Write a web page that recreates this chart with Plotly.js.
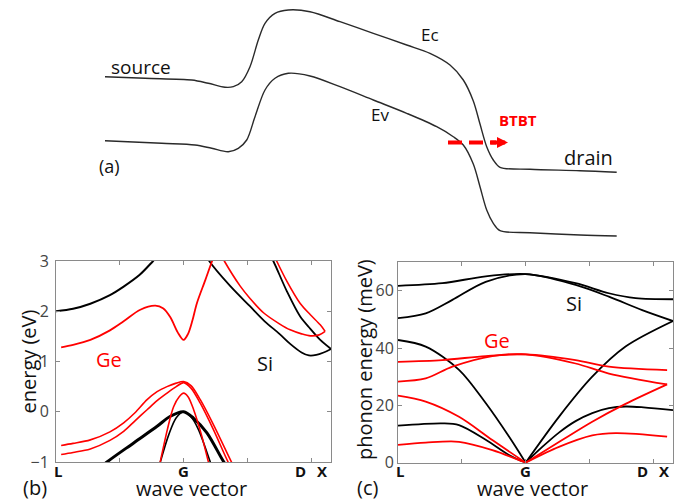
<!DOCTYPE html>
<html><head><meta charset="utf-8">
<script src="https://cdn.plot.ly/plotly-3.0.1.min.js"></script>
<style>html,body{margin:0;padding:0;background:#fff}#chart{width:684px;height:501px}</style>
</head><body><div id="chart"></div>
<script>
// ---------- panel (a): band diagram (position, energy in arbitrary units) ----------
const ecPos    = [105, 145, 191.7, 208.3, 225, 233.3, 241.7, 250, 258.3, 265, 275, 288.3, 310, 340, 373.3, 406.7, 430, 450, 463.3, 473.3, 480, 486.7, 493.3, 500, 530, 580, 616.7];
const ecEnergy = [173.3, 171.7, 170, 166.7, 162.7, 163.3, 168.3, 183.3, 210, 226.7, 236.7, 240, 238.3, 228.3, 216.7, 205, 196.7, 185, 170, 149, 126, 103.3, 90, 82.7, 80.7, 79.3, 77.7];
const evPos    = [105, 161.7, 195, 211.7, 228.3, 238.3, 246.7, 255, 265, 275, 288.3, 310, 340, 373.3, 406.7, 436.7, 453.3, 463.3, 473.3, 480, 486.7, 493.3, 500, 530, 580, 616.7];
const evEnergy = [109.3, 106.7, 105, 101.7, 98.3, 101.7, 110, 133.3, 160, 171.7, 176.7, 174, 163.3, 150, 136.7, 123.3, 113.3, 105, 86, 63.3, 40, 26.7, 19.3, 17.3, 15, 14];
const btbtPos = [448, 496];
const btbtEnergy = [107.5, 107.5];

// ---------- panel (b): electronic band structure (k in 2pi/a, E in eV) ----------
const siCbL_k = [-0.866, -0.75, -0.633, -0.5, -0.407, -0.3, -0.207, -0.1];
const siCbL_E = [2.0, 2.05, 2.15, 2.32, 2.49, 2.72, 3.0, 3.35];
const siCb1_k = [0.1, 0.176, 0.317, 0.45, 0.55, 0.65, 0.723, 0.8, 0.85, 0.9, 0.95, 1.0];
const siCb1_E = [3.4, 2.99, 2.5, 2.1, 1.8, 1.55, 1.35, 1.18, 1.12, 1.13, 1.18, 1.25];
const siCb2_k = [0.58, 0.61, 0.7, 0.79, 0.86, 0.927, 1.0];
const siCb2_E = [3.15, 2.99, 2.4, 1.9, 1.65, 1.43, 1.25];
const geCbA_k = [-0.831, -0.75, -0.633, -0.5, -0.407, -0.294, -0.192, -0.14, -0.09, -0.04, 0, 0.03, 0.06, 0.09, 0.147, 0.192, 0.22];
const geCbA_E = [1.28, 1.33, 1.43, 1.62, 1.80, 2.03, 2.11, 2.06, 1.88, 1.58, 1.43, 1.55, 1.82, 2.16, 2.62, 2.99, 3.2];
const geCbB_k = [0.24, 0.278, 0.384, 0.452, 0.542, 0.65, 0.723, 0.8, 0.86, 0.92, 0.96];
const geCbB_E = [3.2, 2.99, 2.5, 2.25, 1.97, 1.75, 1.63, 1.55, 1.51, 1.53, 1.60];
const geCbC_k = [0.6, 0.633, 0.7, 0.79, 0.86, 0.927, 0.96];
const geCbC_E = [3.2, 2.99, 2.6, 2.16, 1.93, 1.73, 1.60];
const siHH_k = [-0.6, -0.52, -0.339, -0.18, -0.09, 0, 0.068, 0.158, 0.271, 0.3];
const siHH_E = [-1.2, -1.0, -0.62, -0.29, -0.09, 0, -0.13, -0.42, -0.99, -1.1];
const siLH_k = [-0.18, -0.158, -0.1, -0.05, 0, 0.05, 0.1, 0.181, 0.2];
const siLH_E = [-1.25, -1.0, -0.45, -0.12, 0, -0.1, -0.35, -1.0, -1.15];
const geHH_k = [-0.831, -0.75, -0.633, -0.5, -0.407, -0.33, -0.248, -0.18, -0.113, -0.05, 0, 0.05, 0.113, 0.203, 0.328, 0.36];
const geHH_E = [-0.67, -0.63, -0.56, -0.4, -0.22, -0.02, 0.24, 0.4, 0.5, 0.57, 0.60, 0.52, 0.24, -0.26, -1.02, -1.2];
const geLH_k = [-0.831, -0.75, -0.633, -0.5, -0.407, -0.33, -0.248, -0.18, -0.113, -0.05, 0, 0.05, 0.113, 0.203, 0.305, 0.34];
const geLH_E = [-0.85, -0.81, -0.74, -0.57, -0.39, -0.18, 0.04, 0.22, 0.37, 0.5, 0.58, 0.47, 0.17, -0.36, -1.02, -1.2];
const geSO_k = [-0.18, -0.158, -0.11, -0.068, -0.03, 0, 0.03, 0.068, 0.12, 0.17, 0.19];
const geSO_E = [-1.3, -0.99, -0.35, 0.1, 0.3, 0.37, 0.3, 0.04, -0.45, -1.02, -1.25];

// ---------- panel (c): phonon dispersion (k in 2pi/a, E in meV) ----------
const siTO_k = [-0.866, -0.565, -0.271, 0, 0.339, 0.565, 0.746, 1.0];
const siTO_E = [61.7, 62.6, 65.0, 65.8, 62.6, 59.1, 57.4, 57.0];
const siLO_k = [-0.866, -0.678, -0.497, -0.271, 0, 0.339, 0.565, 0.791, 1.0];
const siLO_E = [50.4, 52.1, 56.8, 63.1, 65.8, 62.0, 57.9, 53.2, 49.4];
const siLA_k = [-0.866, -0.678, -0.452, -0.271, -0.113, 0, 0.226, 0.452, 0.678, 1.0];
const siLA_E = [42.8, 40.5, 32.4, 20.8, 9.1, 0, 16.0, 30.0, 40.5, 49.4];
const siTA_k = [-0.866, -0.565, -0.452, -0.271, -0.113, 0, 0.113, 0.226, 0.339, 0.452, 0.565, 0.678, 0.8, 1.0];
const siTA_E = [12.9, 13.7, 13.1, 8.0, 2.7, 0, 5.5, 10.5, 14.5, 17.3, 19.0, 19.6, 19.3, 18.3];
const geO1_k = [-0.866, -0.565, -0.271, 0, 0.339, 0.565, 0.96];
const geO1_E = [35.2, 35.8, 37.2, 37.8, 35.8, 33.5, 32.3];
const geO2_k = [-0.866, -0.678, -0.497, -0.226, 0, 0.339, 0.565, 0.96];
const geO2_E = [28.3, 29.4, 33.5, 37.2, 37.8, 34.6, 31.1, 27.3];
const geLA_k = [-0.866, -0.678, -0.452, -0.226, 0, 0.226, 0.452, 0.678, 0.96];
const geLA_E = [23.4, 21.3, 16.0, 7.9, 0, 7.2, 14.3, 20.5, 27.3];
const geTA_k = [-0.866, -0.678, -0.452, -0.226, 0, 0.226, 0.452, 0.61, 0.96];
const geTA_E = [6.2, 7.0, 7.3, 4.4, 0, 5.5, 9.5, 10.3, 9.1];

const kTickVals = [-0.866, -0.433, 0, 0.433, 0.866, 1.0];

const RED = '#ff0000', BLK = '#000000';
const traces = [];
function branch(k, e, color, width, xa, ya, split) {
  const mk = (kk, ee) => ({x: kk, y: ee, xaxis: xa, yaxis: ya, type: 'scatter', mode: 'lines',
    line: {color: color, width: width, shape: 'spline', smoothing: 0.9}, hoverinfo: 'skip', showlegend: false});
  if (split) {
    const i = k.indexOf(0);
    traces.push(mk(k.slice(0, i + 1), e.slice(0, i + 1)));
    traces.push(mk(k.slice(i), e.slice(i)));
  } else traces.push(mk(k, e));
}
// (a)
branch(ecPos, ecEnergy, '#2a2a2a', 1.4, 'x3', 'y3', false);
branch(evPos, evEnergy, '#2a2a2a', 1.4, 'x3', 'y3', false);
traces.push({x: btbtPos, y: btbtEnergy, xaxis: 'x3', yaxis: 'y3', type: 'scatter', mode: 'lines',
  line: {color: RED, width: 4, dash: '14px,7px'}, hoverinfo: 'skip', showlegend: false});
// (b)
branch(siCbL_k, siCbL_E, BLK, 2, 'x', 'y');
branch(siCb1_k, siCb1_E, BLK, 1.8, 'x', 'y');
branch(siCb2_k, siCb2_E, BLK, 1.8, 'x', 'y');
branch(geCbA_k, geCbA_E, RED, 1.8, 'x', 'y');
branch(geCbB_k, geCbB_E, RED, 1.6, 'x', 'y');
branch(geCbC_k, geCbC_E, RED, 1.6, 'x', 'y');
branch(siHH_k, siHH_E, BLK, 3, 'x', 'y');
branch(siLH_k, siLH_E, BLK, 1.6, 'x', 'y');
branch(geHH_k, geHH_E, RED, 1.6, 'x', 'y');
branch(geLH_k, geLH_E, RED, 1.6, 'x', 'y');
branch(geSO_k, geSO_E, RED, 1.6, 'x', 'y');
// (c)
branch(siTO_k, siTO_E, BLK, 1.8, 'x2', 'y2');
branch(siLO_k, siLO_E, BLK, 1.8, 'x2', 'y2');
branch(siLA_k, siLA_E, BLK, 1.8, 'x2', 'y2', true);
branch(siTA_k, siTA_E, BLK, 1.8, 'x2', 'y2', true);
branch(geO1_k, geO1_E, RED, 1.8, 'x2', 'y2');
branch(geO2_k, geO2_E, RED, 1.8, 'x2', 'y2');
branch(geLA_k, geLA_E, RED, 1.8, 'x2', 'y2', true);
branch(geTA_k, geTA_E, RED, 1.8, 'x2', 'y2', true);

const FONT = 'Open Sans, DejaVu Sans, sans-serif';
const axBase = {showgrid: false, zeroline: false, showline: true, linecolor: '#8a8a8a', linewidth: 1,
  mirror: 'ticks', ticks: 'inside', ticklen: 4, tickcolor: '#8a8a8a', fixedrange: true};
const xk = (dom) => Object.assign({}, axBase, {domain: dom, range: [-0.866, 1.0], tickvals: kTickVals, showticklabels: false});
const yv = (dom, rng, vals, so) => Object.assign({}, axBase, {domain: dom, range: rng, tickvals: vals,
  tickfont: {family: FONT, size: 16, color: '#444'}, ticklabelstandoff: so});

function ann(x, y, text, size, color, extra) {
  return Object.assign({x: x, y: y, xref: 'paper', yref: 'paper', text: text, showarrow: false,
    font: {family: FONT, size: size, color: color}, xanchor: 'center', yanchor: 'middle'}, extra || {});
}
const P = (px) => px / 684, Q = (py) => 1 - py / 501;
const annotations = [
  // (a)
  ann(P(141), Q(67), 'source', 19, '#111'),
  ann(P(430), Q(34), 'Ec', 17, '#111'),
  ann(P(380), Q(115), 'Ev', 17, '#111'),
  ann(P(588), Q(157), 'drain', 20, '#111'),
  ann(P(518), Q(120), '<b>BTBT</b>', 15, RED),
  ann(P(109), Q(166), '(a)', 18, '#111'),
  {x: 508, y: 107.5, ax: 489, ay: 107.5, xref: 'x3', yref: 'y3', axref: 'x3', ayref: 'y3', text: '',
   showarrow: true, arrowhead: 2, arrowsize: 0.55, arrowwidth: 4, arrowcolor: RED, standoff: 0},
  // (b)
  ann(P(109), Q(359), 'Ge', 20, RED),
  ann(P(265), Q(363), 'Si', 20, '#111'),
  ann(P(35), Q(487), '(b)', 20, '#111'),
  ann(P(191), Q(488), 'wave vector', 20, '#111'),
  ann(P(27.5), Q(362), 'energy (eV)', 20, '#111', {textangle: -90}),
  ann(P(58), Q(471), '<b>L</b>', 15, '#111'),
  ann(P(183), Q(471), '<b>G</b>', 15, '#111'),
  ann(P(300), Q(471), '<b>D</b>', 15, '#111'),
  ann(P(322), Q(471), '<b>X</b>', 15, '#111'),
  // (c)
  ann(P(574), Q(303), 'Si', 20, '#111'),
  ann(P(497), Q(340), 'Ge', 20, RED),
  ann(P(367), Q(487), '(c)', 20, '#111'),
  ann(P(532), Q(488), 'wave vector', 20, '#111'),
  ann(P(364), Q(360), 'phonon energy (meV)', 20, '#111', {textangle: -90}),
  ann(P(400), Q(471), '<b>L</b>', 15, '#111'),
  ann(P(525), Q(471), '<b>G</b>', 15, '#111'),
  ann(P(642), Q(471), '<b>D</b>', 15, '#111'),
  ann(P(664), Q(471), '<b>X</b>', 15, '#111')
];

const layout = {
  width: 684, height: 501, margin: {l: 0, r: 0, t: 0, b: 0},
  paper_bgcolor: '#fff', plot_bgcolor: 'rgba(0,0,0,0)', showlegend: false,
  font: {family: FONT},
  xaxis: xk([P(56), P(331)]),
  yaxis: yv([Q(462), Q(261)], [-1, 3], [-1, 0, 1, 2, 3], 3),
  xaxis2: Object.assign(xk([P(398), P(673)]), {anchor: 'y2'}),
  yaxis2: Object.assign(yv([Q(462.7), Q(262)], [0, 70], [0, 20, 40, 60], 0), {anchor: 'x2'}),
  xaxis3: {domain: [0, 1], range: [0, 684], visible: false, fixedrange: true, anchor: 'y3'},
  yaxis3: {domain: [Q(250), 1], range: [0, 250], visible: false, fixedrange: true, anchor: 'x3'},
  annotations: annotations
};
layout.xaxis.anchor = 'y';
layout.yaxis.anchor = 'x';
Plotly.newPlot('chart', traces, layout, {staticPlot: true, displayModeBar: false});
</script></body></html>
